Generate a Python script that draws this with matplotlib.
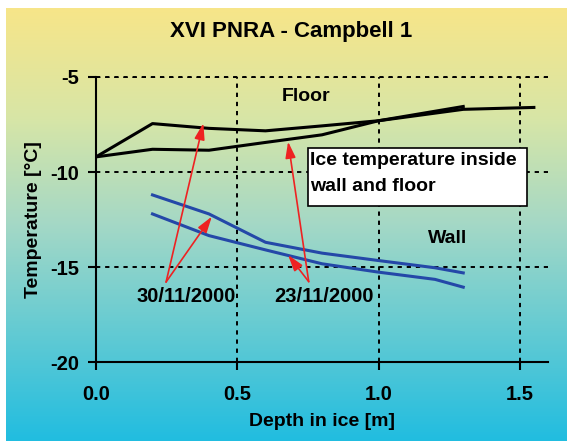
import numpy as np
import matplotlib.pyplot as plt
from matplotlib.colors import LinearSegmentedColormap
from matplotlib.patches import Rectangle

# floor (black) profiles
floor_30_x = [0.0, 0.2, 0.4, 0.6, 0.8, 1.0, 1.3, 1.55]
floor_30_y = [-9.2, -7.45, -7.7, -7.83, -7.57, -7.3, -6.7, -6.6]
floor_23_x = [0.0, 0.2, 0.4, 0.6, 0.8, 1.0, 1.3]
floor_23_y = [-9.2, -8.8, -8.85, -8.44, -8.04, -7.3, -6.55]

# wall (blue) profiles
wall_30_x = [0.2, 0.4, 0.6, 0.8, 1.0, 1.2, 1.3]
wall_30_y = [-11.2, -12.2, -13.69, -14.26, -14.65, -15.03, -15.3]
wall_23_x = [0.2, 0.4, 0.6, 0.8, 1.0, 1.2, 1.3]
wall_23_y = [-12.2, -13.34, -14.09, -14.82, -15.26, -15.64, -16.05]

xticks = [0.0, 0.5, 1.0, 1.5]
yticks = [-20, -15, -10, -5]

plt.rcParams['font.family'] = ['Liberation Sans', 'DejaVu Sans']
plt.rcParams['font.weight'] = 'bold'
plt.rcParams['axes.labelweight'] = 'bold'
plt.rcParams['axes.unicode_minus'] = False

fig = plt.figure(figsize=(5.67, 4.41), dpi=100)

# gradient background (small white margin at left/top)
bg = fig.add_axes([6 / 567, 0, 1 - 6 / 567, 1 - 8 / 441], zorder=-10)
cmap = LinearSegmentedColormap.from_list(
    'bg', [(0.0, '#21bde0'), (0.5, '#a4d8c6'), (0.75, '#d8e6a6'), (1.0, '#f7e589')])
grad = np.linspace(0, 1, 256).reshape(-1, 1)
bg.imshow(grad, aspect='auto', cmap=cmap, origin='lower', extent=[0, 1, 0, 1])
bg.axis('off')

ax = fig.add_axes([96 / 567, 1 - 362.3 / 441, (548 - 96) / 567, (362.3 - 77) / 441])
ax.patch.set_alpha(0)

ax.plot(floor_30_x, floor_30_y, color='black', lw=2.2)
ax.plot(floor_23_x, floor_23_y, color='black', lw=2.2)
ax.plot(wall_30_x, wall_30_y, color='#2448a8', lw=2.2)
ax.plot(wall_23_x, wall_23_y, color='#2448a8', lw=2.2)

ax.set_xlim(0, 1.6)
ax.set_ylim(-20, -5)
ax.set_xticks(xticks)
ax.set_xticklabels(['%.1f' % v for v in xticks])
ax.set_yticks(yticks)

for s in ['top', 'right']:
    ax.spines[s].set_visible(False)
for s in ['left', 'bottom']:
    ax.spines[s].set_linewidth(1.5)

ax.tick_params(axis='both', labelsize=14.5, width=1.5, length=6)
ax.tick_params(axis='x', pad=10)
ax.tick_params(axis='y', pad=6)
ax.grid(True, color='black', linestyle=(0, (2.2, 2.5)), lw=1.4)
# top gridline at -5
ax.axhline(-5, color='black', linestyle=(0, (2.2, 2.5)), lw=1.4, clip_on=False)

ax.set_xlabel('Depth in ice [m]', fontsize=14, labelpad=7)
ax.set_ylabel('Temperature [°C]', fontsize=14, labelpad=6)
fig.text(291 / 567, 1 - 32 / 441, 'XVI PNRA - Campbell 1', fontsize=16,
         ha='center', va='center')

ax.text(0.745, -6.03, 'Floor', fontsize=14, ha='center', va='center')
ax.text(1.246, -13.48, 'Wall', fontsize=14, ha='center', va='center')

ax.add_patch(Rectangle((0.749, -11.77), 1.525 - 0.749, 11.77 - 8.72,
                       fc='white', ec='black', lw=1.2, zorder=3))
ax.text(0.757, -9.39, 'Ice temperature inside', fontsize=14,
        ha='left', va='center', zorder=4)
ax.text(0.757, -10.76, 'wall and floor', fontsize=14,
        ha='left', va='center', zorder=4)

arrow = dict(arrowstyle='-|>,head_length=0.7,head_width=0.22', color='#ee2222',
             lw=1.2, mutation_scale=14, shrinkA=0, shrinkB=0)
for tx, ty in [(0.38, -7.43), (0.41, -12.34)]:
    ax.annotate('', xy=(tx, ty), xytext=(0.248, -15.78), arrowprops=arrow)
for tx, ty in [(0.68, -8.4), (0.68, -14.36)]:
    ax.annotate('', xy=(tx, ty), xytext=(0.753, -15.76), arrowprops=arrow)
ax.text(0.32, -16.55, '30/11/2000', fontsize=14.5, ha='center', va='center')
ax.text(0.806, -16.55, '23/11/2000', fontsize=14.5, ha='center', va='center')

fig.savefig('out.png', dpi=100)
